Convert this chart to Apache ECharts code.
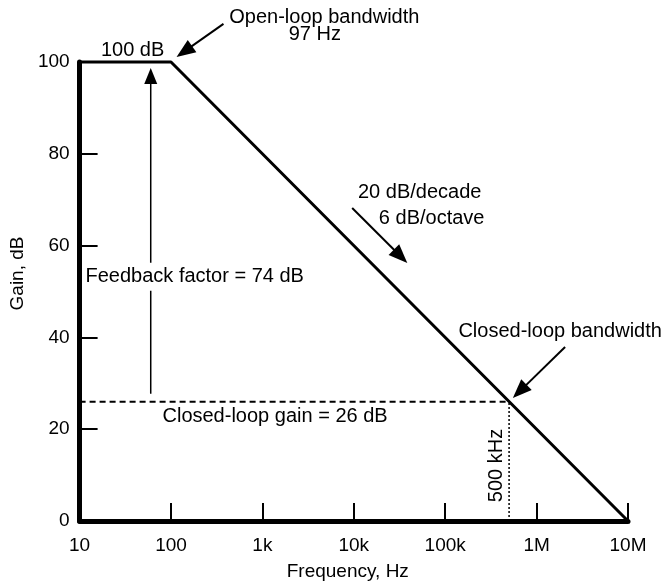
<!DOCTYPE html>
<html><head><meta charset="utf-8">
<script src="https://cdn.jsdelivr.net/npm/echarts@6/dist/echarts.min.js"></script>
<style>html,body{margin:0;padding:0;background:#fff}#c{width:664px;height:586px}</style>
</head><body><div id="c"></div>
<script>
// ---- data ----
const freqTickLabels = ['10', '100', '1k', '10k', '100k', '1M', '10M'];
const gainTicks = [0, 20, 40, 60, 80, 100];
const openLoopFreq = [10, 100, 1e7];
const openLoopGain = [100, 100, 0];
const closedLoopGainDb = 26;
const closedLoopBwHz = 5e5;
const minFreq = 10;

const annotationTexts = ['100 dB', 'Open-loop bandwidth', '97 Hz', '20 dB/decade', '6 dB/octave',
  'Feedback factor = 74 dB', 'Closed-loop gain = 26 dB', 'Closed-loop bandwidth', '500 kHz'];
const annotationFreq = [38, 4760, 3750, 52600, 71100, 11.6, 80.7, 1.81e6, 3.66e5];
const annotationGain = [102.6, 109.6, 106.0, 71.5, 66.0, 53.2, 22.7, 41.2, 12.1];

const arrowTailFreq = [375, 9600, 2.05e6, 60];
const arrowTailGain = [108.3, 68.2, 37.9, 27.7];
const arrowTipFreq = [115, 38500, 5.5e5, 60];
const arrowTipGain = [101.1, 56.2, 26.8, 98.7];

// ---- styles ----
const FONT = '"Liberation Sans", Arial, Helvetica, sans-serif';
const textStyles = annotationTexts.map((t, i) => {
  const s = { align: 'center', rotate: 0, bg: null, pad: 0 };
  if (i === 5 || i === 6) s.align = 'left';
  if (i === 5) { s.bg = '#fff'; s.pad = [4, 2, 4, 0]; }
  if (i === 8) s.rotate = Math.PI / 2;
  return s;
});
const arrowStyles = [
  { w: 2, headLen: 19, headW: 15 },
  { w: 2, headLen: 19, headW: 15 },
  { w: 2, headLen: 19, headW: 15 },
  { w: 1.5, headLen: 16, headW: 13 }
];

const chart = echarts.init(document.getElementById('c'), null, { renderer: 'canvas' });

const mainLine = openLoopFreq.map((f, i) => [f, openLoopGain[i]]);
const dashedLine = [[minFreq, closedLoopGainDb], [closedLoopBwHz, closedLoopGainDb]];
const dottedLine = [[closedLoopBwHz, 0], [closedLoopBwHz, closedLoopGainDb]];
const textData = annotationFreq.map((f, i) => [f, annotationGain[i]]);
const arrowData = arrowTailFreq.map((f, i) => [f, arrowTailGain[i], arrowTipFreq[i], arrowTipGain[i]]);

chart.setOption({
  animation: false,
  backgroundColor: '#fff',
  grid: { left: 79, right: 36, top: 62, bottom: 65, containLabel: false },
  xAxis: {
    type: 'log', logBase: 10, min: 10, max: 1e7, splitNumber: 6,
    name: 'Frequency, Hz', nameLocation: 'middle', nameGap: 41,
    nameTextStyle: { fontFamily: FONT, fontSize: 19, color: '#000', padding: [0, 12, 0, 0] },
    axisLine: { lineStyle: { color: '#000', width: 5 } },
    axisTick: { inside: true, length: 18, lineStyle: { color: '#000', width: 2 } },
    minorTick: { show: false },
    splitLine: { show: false },
    axisLabel: {
      fontFamily: FONT, fontSize: 19, color: '#000', margin: 15,
      formatter: v => freqTickLabels[Math.round(Math.log10(v)) - 1] ?? ''
    }
  },
  yAxis: {
    type: 'value', min: gainTicks[0], max: gainTicks[gainTicks.length - 1], interval: 20,
    name: 'Gain, dB', nameLocation: 'middle', nameGap: 46, nameRotate: 90,
    nameTextStyle: { fontFamily: FONT, fontSize: 19, color: '#000', padding: [0, 0, 0, 36] },
    axisLine: { lineStyle: { color: '#000', width: 5 } },
    axisTick: { inside: true, length: 18, lineStyle: { color: '#000', width: 2 } },
    splitLine: { show: false },
    axisLabel: { fontFamily: FONT, fontSize: 19, color: '#000', margin: 10 }
  },
  series: [
    {
      type: 'line', data: mainLine, symbol: 'none', clip: false, z: 3,
      lineStyle: { color: '#000', width: 3 }
    },
    {
      type: 'line', data: dashedLine, symbol: 'none', clip: false, z: 2,
      lineStyle: { color: '#000', width: 2, type: [6, 4] }
    },
    {
      type: 'line', data: dottedLine, symbol: 'none', clip: false, z: 2,
      lineStyle: { color: '#000', width: 1.5, type: [2, 2] }
    },
    {
      type: 'custom', data: arrowData, z: 4, clip: false,
      encode: { x: 0, y: 1 },
      renderItem: (params, api) => {
        const a = api.coord([api.value(0), api.value(1)]);
        const b = api.coord([api.value(2), api.value(3)]);
        const st = arrowStyles[params.dataIndex];
        const dx = b[0] - a[0], dy = b[1] - a[1], L = Math.hypot(dx, dy);
        const ux = dx / L, uy = dy / L, px = -uy, py = ux;
        const base = [b[0] - ux * st.headLen, b[1] - uy * st.headLen];
        return {
          type: 'group', children: [
            { type: 'line', shape: { x1: a[0], y1: a[1], x2: base[0] + ux * 2, y2: base[1] + uy * 2 },
              style: { stroke: '#000', lineWidth: st.w } },
            { type: 'polygon', shape: { points: [b,
                [base[0] + px * st.headW / 2, base[1] + py * st.headW / 2],
                [base[0] - px * st.headW / 2, base[1] - py * st.headW / 2]] },
              style: { fill: '#000' } }
          ]
        };
      }
    },
    {
      type: 'custom', data: textData, z: 6, clip: false,
      encode: { x: 0, y: 1 },
      renderItem: (params, api) => {
        const p = api.coord([api.value(0), api.value(1)]);
        const s = textStyles[params.dataIndex];
        const style = {
          text: annotationTexts[params.dataIndex], x: 0, y: 0,
          align: s.align, verticalAlign: 'middle', fill: '#000',
          font: '20px ' + FONT
        };
        if (s.bg) { style.backgroundColor = s.bg; style.padding = s.pad; }
        return { type: 'text', x: p[0], y: p[1], rotation: s.rotate, style: style };
      }
    }
  ]
});
</script>
</body></html>
